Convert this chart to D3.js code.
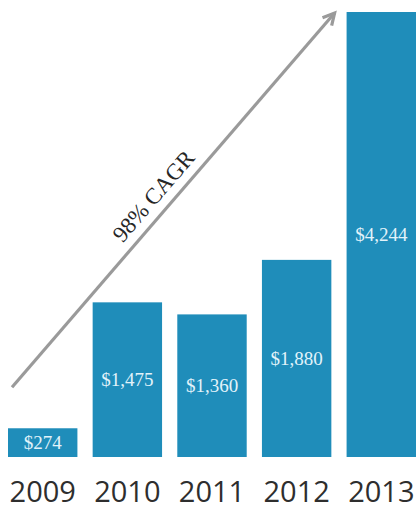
<!DOCTYPE html>
<html>
<head>
<meta charset="utf-8">
<script src="https://cdn.jsdelivr.net/npm/d3@7"></script>
<style>
  html, body { margin: 0; padding: 0; background: #ffffff; }
  svg { display: block; }
</style>
</head>
<body>
<svg id="chart" width="417" height="510"></svg>
<script>
// Revenue by year (USD, thousands)
const years = ["2009", "2010", "2011", "2012", "2013"];
const revenue = [274, 1475, 1360, 1880, 4244];
const valueLabels = ["$274", "$1,475", "$1,360", "$1,880", "$4,244"];
const growthLabel = "98% CAGR";

const W = 417, H = 510;
const baseY = 457, topY = 12;

const svg = d3.select("#chart");

const x = d3.scaleBand()
  .domain(years)
  .range([8, 416])
  .paddingInner(0.18)
  .paddingOuter(0);

const y = d3.scaleLinear()
  .domain([0, d3.max(revenue)])
  .range([baseY, topY]);

const data = years.map((yr, i) => ({ year: yr, value: revenue[i], label: valueLabels[i] }));

// Bars
svg.append("g")
  .selectAll("rect")
  .data(data)
  .join("rect")
  .attr("x", d => x(d.year))
  .attr("y", d => y(d.value))
  .attr("width", x.bandwidth())
  .attr("height", d => baseY - y(d.value))
  .attr("fill", "#1f8dba");

// Value labels, centred inside each bar
svg.append("g")
  .selectAll("text")
  .data(data)
  .join("text")
  .attr("x", d => x(d.year) + x.bandwidth() / 2)
  .attr("y", d => (y(d.value) + baseY) / 2)
  .attr("dy", "0.35em")
  .attr("text-anchor", "middle")
  .attr("font-family", "'Liberation Serif', 'DejaVu Serif', serif")
  .attr("font-size", 19)
  .attr("fill", "#e2f3fa")
  .text(d => d.label);

// Year axis (labels only)
const xAxis = d3.axisBottom(x).tickSize(0).tickPadding(0);
const axisG = svg.append("g")
  .attr("transform", `translate(0, ${baseY + 45})`)
  .call(xAxis);
axisG.select(".domain").remove();
axisG.selectAll("text")
  .attr("font-family", "'Open Sans', sans-serif")
  .attr("font-size", 29)
  .attr("fill", "#2e2e2e")
  .attr("y", 0)
  .attr("dy", 0);

// Growth arrow running from the first bar to the last
const x0 = x(years[0]) + 4, y0 = y(revenue[0]) - 41;
const x1 = x(years[years.length - 1]) - 12, y1 = y(d3.max(revenue)) + 1;
const ang = Math.atan2(y1 - y0, x1 - x0);

svg.append("line")
  .attr("x1", x0).attr("y1", y0)
  .attr("x2", x1).attr("y2", y1)
  .attr("stroke", "#9a9a9a")
  .attr("stroke-width", 3.2);

const headLen = 13, headSpread = Math.PI / 6.5;
svg.append("path")
  .attr("d", d3.line()([
    [x1 - headLen * Math.cos(ang - headSpread), y1 - headLen * Math.sin(ang - headSpread)],
    [x1, y1],
    [x1 - headLen * Math.cos(ang + headSpread), y1 - headLen * Math.sin(ang + headSpread)]
  ]))
  .attr("fill", "none")
  .attr("stroke", "#9a9a9a")
  .attr("stroke-width", 3.2)
  .attr("stroke-linejoin", "miter");

// Growth rate label along the arrow
const t = 0.48;
const lx = x0 + (x1 - x0) * t, ly = y0 + (y1 - y0) * t;
svg.append("text")
  .attr("transform", `translate(${lx},${ly}) rotate(${ang * 180 / Math.PI})`)
  .attr("y", -10)
  .attr("text-anchor", "middle")
  .attr("font-family", "'Liberation Serif', 'DejaVu Serif', serif")
  .attr("font-size", 23)
  .attr("fill", "#262626")
  .text(growthLabel);
</script>
</body>
</html>
